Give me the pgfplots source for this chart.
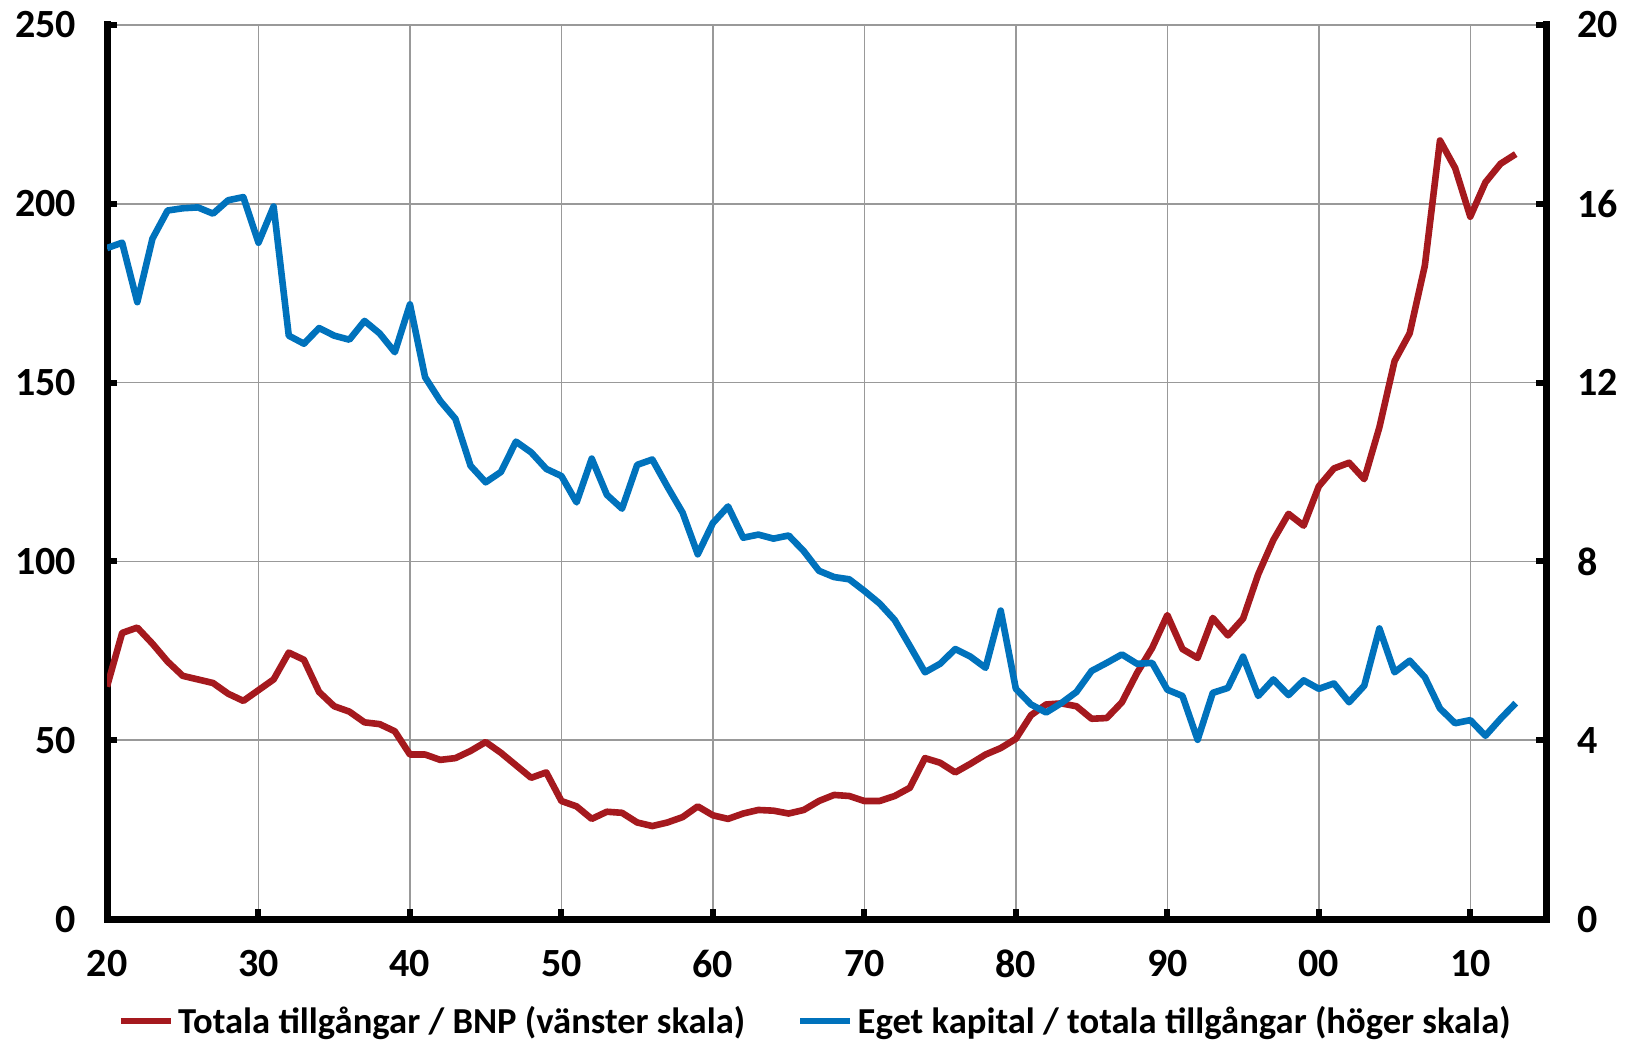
\documentclass[border=0pt]{standalone}
\usepackage{pgfplots}
\pgfplotsset{compat=1.18}
\usepackage{fontspec}
\setmainfont{Carlito}
\usetikzlibrary{calc}
\definecolor{cred}{RGB}{165,25,30}
\definecolor{cblue}{RGB}{0,114,188}
\begin{document}
\begin{tikzpicture}
\pgfplotsset{
  common/.style={
    scale only axis, width=719.5pt, height=447pt,
    xmin=1920, xmax=2015,
    font=\fontsize{20}{23}\selectfont\bfseries,
    /pgf/number format/assume math mode=true,
    tick align=inside, major tick length=5pt,
    every tick/.style={black, line width=3pt},
    axis line style={-, line width=3.5pt, black, line cap=rect},
  }
}
\begin{axis}[common,
  axis x line*=bottom, axis y line*=left,
  ymin=0, ymax=250, ytick={0,50,100,150,200,250},
  xtick={1920,1930,1940,1950,1960,1970,1980,1990,2000,2010},
  xticklabels={20,30,40,50,60,70,80,90,00,10},
  grid=major, major grid style={gray!80, line width=0.75pt},
  yticklabel style={xshift=-12pt},
  xticklabel style={yshift=-12pt},
]
\coordinate (sw) at (rel axis cs:0,0);
\coordinate (ne) at (rel axis cs:1,1);
\addplot[cred, line width=3.3pt, line join=round] coordinates {
(1920,65)(1921,80)(1922,81.5)(1923,77)(1924,72)(1925,68)(1926,67)(1927,66)(1928,63)(1929,61)(1930,64)(1931,67)(1932,74.5)(1933,72.5)(1934,63.5)(1935,59.5)(1936,58)(1937,55)(1938,54.5)(1939,52.5)(1940,46)(1941,46)(1942,44.5)(1943,45)(1944,47)(1945,49.5)(1946,46.5)(1947,43)(1948,39.5)(1949,41)(1950,33)(1951,31.5)(1952,28)(1953,30)(1954,29.7)(1955,27)(1956,26)(1957,27)(1958,28.5)(1959,31.5)(1960,29)(1961,28)(1962,29.5)(1963,30.5)(1964,30.3)(1965,29.5)(1966,30.5)(1967,33)(1968,34.7)(1969,34.4)(1970,33)(1971,33)(1972,34.4)(1973,36.7)(1974,45)(1975,43.7)(1976,41)(1977,43.4)(1978,46)(1979,47.8)(1980,50.4)(1981,57)(1982,60)(1983,60.3)(1984,59.5)(1985,56)(1986,56.2)(1987,60.6)(1988,68.8)(1989,75.8)(1990,85)(1991,75.5)(1992,73)(1993,84.2)(1994,79.3)(1995,84)(1996,96.4)(1997,106)(1998,113.3)(1999,110)(2000,121)(2001,126)(2002,127.6)(2003,123)(2004,137.5)(2005,156)(2006,163.8)(2007,182.7)(2008,217.7)(2009,210)(2010,196.4)(2011,206)(2012,211.2)(2013,213.9)
};
\end{axis}
\begin{axis}[common,
  axis x line=none, axis y line*=right,
  ymin=0, ymax=20, ytick={0,4,8,12,16,20},
  yticklabel style={xshift=12pt},
  legend columns=2,
  legend style={draw=none, fill=none, at={(0.4927,-0.114)}, anchor=center,
    font=\fontsize{18.3}{21}\selectfont\bfseries,
    nodes={inner xsep=2pt},
    /tikz/every even column/.append style={column sep=24pt},
    inner sep=0pt},
  legend cell align=left,
  legend image code/.code={\draw[#1] (0pt,0pt) -- (25pt,0pt);},
]
\addlegendimage{cred, line width=3.3pt}
\addlegendentry{Totala tillgångar / BNP (vänster skala)}
\addplot[cblue, line width=3.3pt, line join=round] coordinates {
(1920,15.01)(1921,15.13)(1922,13.8)(1923,15.22)(1924,15.85)(1925,15.9)(1926,15.92)(1927,15.78)(1928,16.08)(1929,16.15)(1930,15.13)(1931,15.94)(1932,13.05)(1933,12.87)(1934,13.22)(1935,13.05)(1936,12.96)(1937,13.38)(1938,13.1)(1939,12.68)(1940,13.75)(1941,12.12)(1942,11.59)(1943,11.19)(1944,10.14)(1945,9.77)(1946,10.0)(1947,10.68)(1948,10.44)(1949,10.07)(1950,9.91)(1951,9.32)(1952,10.3)(1953,9.49)(1954,9.18)(1955,10.16)(1956,10.28)(1957,9.67)(1958,9.09)(1959,8.16)(1960,8.86)(1961,9.23)(1962,8.53)(1963,8.6)(1964,8.51)(1965,8.58)(1966,8.23)(1967,7.79)(1968,7.65)(1969,7.6)(1970,7.34)(1971,7.06)(1972,6.69)(1973,6.11)(1974,5.52)(1975,5.71)(1976,6.04)(1977,5.87)(1978,5.62)(1979,6.9)(1980,5.15)(1981,4.8)(1982,4.62)(1983,4.83)(1984,5.08)(1985,5.55)(1986,5.73)(1987,5.92)(1988,5.71)(1989,5.73)(1990,5.13)(1991,4.99)(1992,4.01)(1993,5.06)(1994,5.17)(1995,5.87)(1996,4.99)(1997,5.36)(1998,5.01)(1999,5.34)(2000,5.15)(2001,5.27)(2002,4.85)(2003,5.22)(2004,6.5)(2005,5.52)(2006,5.78)(2007,5.41)(2008,4.71)(2009,4.38)(2010,4.45)(2011,4.1)(2012,4.48)(2013,4.83)
};
\addlegendentry{Eget kapital / totala tillgångar (höger skala)}
\end{axis}
\pgfresetboundingbox
\path ($(sw)+(-53.5pt,-60pt)$) rectangle ($(ne)+(43pt,12.5pt)$);
\end{tikzpicture}
\end{document}
